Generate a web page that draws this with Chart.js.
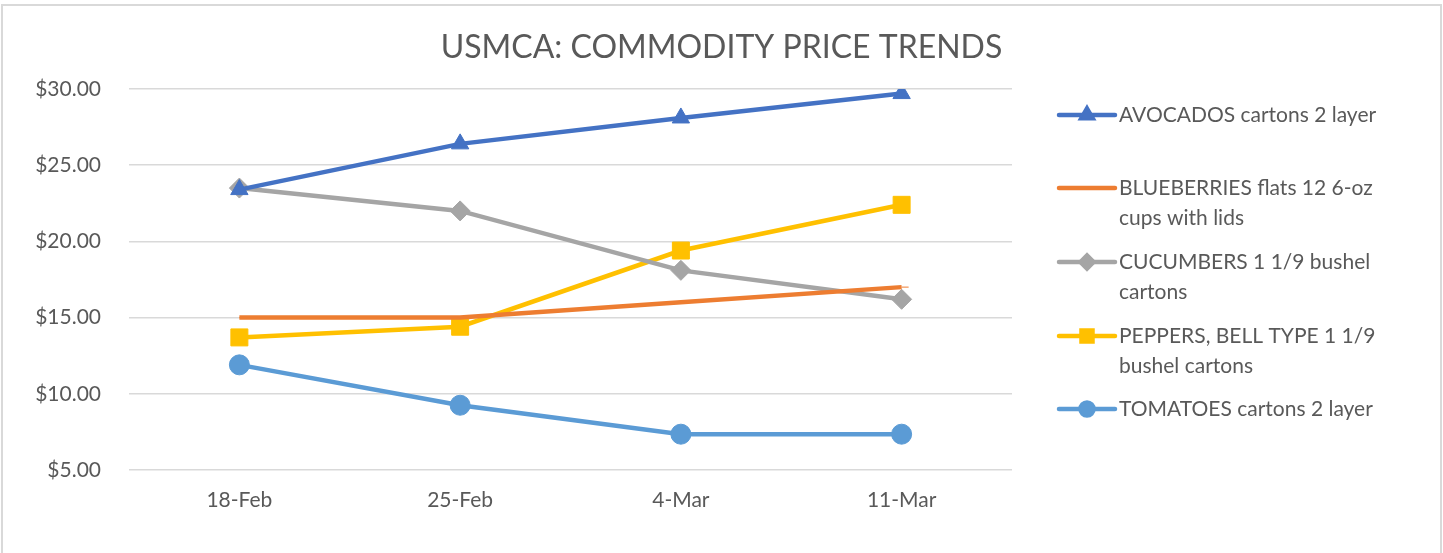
<!DOCTYPE html>
<html>
<head>
<meta charset="utf-8">
<script src="https://cdn.jsdelivr.net/npm/chart.js@4"></script>
<style>
  html, body { margin: 0; padding: 0; background: #fff; }
  #wrap { width: 1443px; height: 553px; }
</style>
</head>
<body>
<div id="wrap"><canvas id="priceChart" width="1443" height="553"></canvas></div>
<script>
// weeks on the x axis
const weeks = ['18-Feb', '25-Feb', '4-Mar', '11-Mar'];

// series values ($ per unit)
const avocados = [23.4, 26.4, 28.1, 29.7];
const blueberries = [15.0, 15.0, 16.0, 17.0];
const cucumbers = [23.5, 22.0, 18.1, 16.2];
const peppers = [13.7, 14.4, 19.4, 22.4];
const tomatoes = [11.9, 9.25, 7.35, 7.35];

// legend text, already split the way the original wraps it
const seriesNames = [
    ['AVOCADOS cartons 2 layer'],
    ['BLUEBERRIES flats 12 6-oz', 'cups with lids'],
    ['CUCUMBERS 1 1/9 bushel', 'cartons'],
    ['PEPPERS, BELL TYPE 1 1/9', 'bushel cartons'],
    ['TOMATOES cartons 2 layer']
];

const chartTitle = 'USMCA: COMMODITY PRICE TRENDS';

// y axis range
const yMin = 5;
const yMax = 30;
const yStep = 5;

const FONT = 'Lato, "Liberation Sans", sans-serif';
const TEXT_COLOR = '#595959';

function series(name, data, color, style, radius) {
    return {
        label: name.join(' '),
        lines: name,
        data: data,
        borderColor: color,
        backgroundColor: color,
        borderWidth: 4.5,
        pointStyle: style,
        pointRadius: radius,
        pointHoverRadius: radius,
        pointBorderWidth: 1,
        pointBackgroundColor: color,
        pointBorderColor: color,
        tension: 0
    };
}

// white background, frame and the title centred on the whole canvas
const framePlugin = {
    id: 'frame',
    beforeDraw(chart) {
        const ctx = chart.ctx;
        ctx.save();
        ctx.fillStyle = '#fff';
        ctx.fillRect(0, 0, chart.width, chart.height);
        ctx.strokeStyle = '#d9d9d9';
        ctx.lineWidth = 2;
        ctx.beginPath();
        ctx.moveTo(2, chart.height + 5);
        ctx.lineTo(2, 5);
        ctx.lineTo(1441, 5);
        ctx.lineTo(1441, chart.height + 5);
        ctx.stroke();

        ctx.fillStyle = TEXT_COLOR;
        ctx.font = '32px ' + FONT;
        ctx.textAlign = 'center';
        ctx.textBaseline = 'middle';
        ctx.fillText(chartTitle, chart.width / 2, 48);
        ctx.restore();
    }
};

// legend on the right, with wrapped names
const sideLegend = {
    id: 'sideLegend',
    afterDraw(chart) {
        const ctx = chart.ctx;
        const x0 = 1059, x1 = 1115, textX = 1119;
        const rows = [115, 188, 262, 336, 409];
        ctx.save();
        ctx.font = '21px ' + FONT;
        ctx.textBaseline = 'middle';
        ctx.textAlign = 'left';
        chart.data.datasets.forEach((ds, i) => {
            const y = rows[i];
            ctx.strokeStyle = ds.borderColor;
            ctx.lineWidth = 4.5;
            ctx.lineCap = 'round';
            ctx.beginPath();
            ctx.moveTo(x0, y);
            ctx.lineTo(x1, y);
            ctx.stroke();
            if (ds.pointStyle !== 'dash') {
                ctx.fillStyle = ds.borderColor;
                Chart.helpers.drawPoint(ctx, {
                    pointStyle: ds.pointStyle,
                    radius: ds.pointRadius * 0.65,
                    borderWidth: 1,
                    rotation: 0
                }, (x0 + x1) / 2, y);
                ctx.fill();
            }
            ctx.fillStyle = TEXT_COLOR;
            ds.lines.forEach((line, j) => {
                ctx.fillText(line, textX, y + j * 30);
            });
        });
        ctx.restore();
    }
};

const ctx = document.getElementById('priceChart');

new Chart(ctx.getContext('2d'), {
    type: 'line',
    data: {
        labels: weeks,
        datasets: [
            series(seriesNames[0], avocados, '#4472C4', 'triangle', 10),
            series(seriesNames[1], blueberries, '#ED7D31', 'dash', 7),
            series(seriesNames[2], cucumbers, '#A5A5A5', 'rectRot', 10),
            series(seriesNames[3], peppers, '#FFC000', 'rect', 12),
            series(seriesNames[4], tomatoes, '#5B9BD5', 'circle', 10)
        ]
    },
    options: {
        responsive: false,
        animation: false,
        layout: {
            padding: { top: 89, right: 431, bottom: 0, left: 0 }
        },
        plugins: {
            legend: { display: false },
            tooltip: { enabled: false },
            title: { display: false }
        },
        scales: {
            x: {
                offset: true,
                grid: { display: false, drawTicks: false },
                border: { display: false },
                ticks: {
                    color: TEXT_COLOR,
                    font: { family: FONT, size: 21 },
                    padding: 18,
                    maxRotation: 0
                },
                afterFit(scale) { scale.height = 83; }
            },
            y: {
                min: yMin,
                max: yMax,
                grid: { color: '#d9d9d9', lineWidth: 1.5, drawTicks: false },
                border: { display: false },
                ticks: {
                    stepSize: yStep,
                    color: TEXT_COLOR,
                    font: { family: FONT, size: 21 },
                    padding: 28,
                    callback: v => '$' + v.toFixed(2)
                },
                afterFit(scale) { scale.width = 129; }
            }
        }
    },
    plugins: [framePlugin, sideLegend]
});
</script>
</body>
</html>
